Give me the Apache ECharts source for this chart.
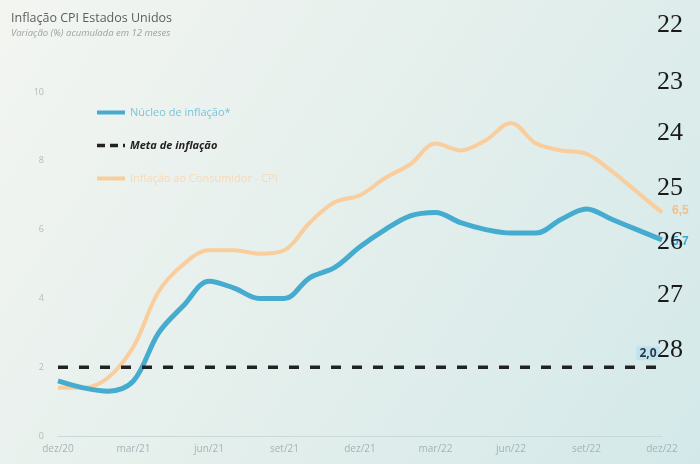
<!DOCTYPE html>
<html><head><meta charset="utf-8">
<script src="https://cdn.jsdelivr.net/npm/echarts@6/dist/echarts.min.js"></script>
<style>html,body{margin:0;padding:0;}#c{width:700px;height:464px;}</style>
</head><body><div id="c"></div>
<script>
var categories = ['dez/20','jan/21','fev/21','mar/21','abr/21','mai/21','jun/21','jul/21','ago/21','set/21','out/21','nov/21','dez/21','jan/22','fev/22','mar/22','abr/22','mai/22','jun/22','jul/22','ago/22','set/22','out/22','nov/22','dez/22'];
var nucleo = [1.6,1.4,1.3,1.6,3.0,3.8,4.5,4.3,4.0,4.0,4.6,4.9,5.5,6.0,6.4,6.5,6.2,6.0,5.9,5.9,6.3,6.6,6.3,6.0,5.7];
var cpi = [1.4,1.4,1.7,2.6,4.2,5.0,5.4,5.4,5.3,5.4,6.2,6.8,7.0,7.5,7.9,8.5,8.3,8.6,9.1,8.5,8.3,8.2,7.7,7.1,6.5];
var meta = [2,2,2,2,2,2,2,2,2,2,2,2,2,2,2,2,2,2,2,2,2,2,2,2,2];
var yTicks = [0,2,4,6,8,10];
var pageLineNumbers = ['22','23','24','25','26','27','28'];

var names = ['Núcleo de inflação*','Meta de inflação','Inflação ao Consumidor - CPI'];
function br(v){return String(Number(v).toFixed(1)).replace('.',',');}

var chart = echarts.init(document.getElementById('c'));
var lnTops = [12,69,120,175,229,282,337];
var lnGraphics = pageLineNumbers.map(function(t,i){
  return {type:'text', left:657, top:lnTops[i], z:100,
    style:{text:t, font:'26px "Liberation Serif"', fill:'#1a1a1a'}};
});
var last = meta.length-1;
chart.setOption({
  backgroundColor: new echarts.graphic.LinearGradient(0,0,1,1,[
    {offset:0,color:'#f3f5f1'},{offset:0.5,color:'#e4efec'},{offset:1,color:'#d3e9e9'}]),
  animation:false,
  title:{text:'Inflação CPI Estados Unidos', subtext:'Variação (%) acumulada em 12 meses',
    left:6, top:7, itemGap:3,
    textStyle:{fontFamily:'Open Sans', fontSize:12.5, fontWeight:'normal', color:'#5a5f60'},
    subtextStyle:{fontFamily:'Open Sans', fontSize:9.5, fontStyle:'italic', color:'#9aa3a3'}},
  legend:{orient:'vertical', left:90, top:102, itemGap:22, itemWidth:28, itemHeight:12,
    itemStyle:{opacity:0},
    data:[
      {name:names[0], lineStyle:{width:4}, textStyle:{color:'#7cc3da', fontSize:11, fontFamily:'Open Sans'}},
      {name:names[1], lineStyle:{width:3.5, type:[8,5]}, textStyle:{color:'#222', fontSize:11, fontWeight:'bold', fontStyle:'italic', fontFamily:'Open Sans'}},
      {name:names[2], lineStyle:{width:4}, textStyle:{color:'#f8d9b4', fontSize:11, fontFamily:'Open Sans'}}
    ]},
  grid:{left:58, right:38, top:92, bottom:28},
  xAxis:{type:'category', data:categories, boundaryGap:false,
    axisLine:{lineStyle:{color:'#c9d9d8', width:1}},
    axisTick:{show:false},
    axisLabel:{interval:2, color:'#a3b4b8', fontSize:10, fontFamily:'Open Sans', margin:8}},
  yAxis:{type:'value', min:yTicks[0], max:yTicks[yTicks.length-1], interval:2,
    splitLine:{show:false}, axisLine:{show:false}, axisTick:{show:false},
    axisLabel:{color:'#b3bcbc', fontSize:9, fontFamily:'Open Sans', margin:14}},
  series:[
    {name:names[0], type:'line', data:nucleo, smooth:0.35, showSymbol:false, symbol:'none', z:4,
      lineStyle:{color:'#45acd0', width:5}, itemStyle:{color:'#45acd0'},
      endLabel:{show:true, formatter:function(p){return br(p.value);}, color:'#3da6cf', fontWeight:'bold', fontSize:12, offset:[2,2]}},
    {name:names[1], type:'line', data:meta, showSymbol:false, symbol:'none', z:5,
      lineStyle:{color:'#222', width:3.5, type:[10,11]}, itemStyle:{color:'#222'},
      markPoint:{symbol:'rect', symbolSize:2, silent:true,
        itemStyle:{color:'rgba(0,0,0,0)'},
        data:[{xAxis:last, yAxis:meta[last], value:meta[last]}],
        label:{show:true, position:'top', distance:6, offset:[-14,0], formatter:function(p){return br(p.value);},
          color:'#2a3a44', fontWeight:'bold', fontSize:12, fontFamily:'Open Sans', backgroundColor:'#bfe2f1', padding:[1,3]}}},
    {name:names[2], type:'line', data:cpi, smooth:0.35, showSymbol:false, symbol:'none', z:3,
      lineStyle:{color:'#f9cd9c', width:4}, itemStyle:{color:'#f9cd9c'},
      endLabel:{show:true, formatter:function(p){return br(p.value);}, color:'#f5bf85', fontWeight:'bold', fontSize:12, offset:[2,-2]}}
  ],
  graphic: lnGraphics
});
</script></body></html>
